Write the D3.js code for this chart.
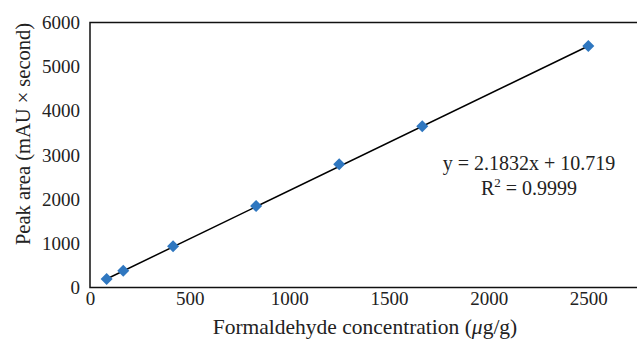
<!DOCTYPE html>
<html>
<head>
<meta charset="utf-8">
<script src="https://cdn.jsdelivr.net/npm/d3@7"></script>
<style>
  body { margin: 0; background: #fff; }
  svg text { font-family: "Liberation Serif", "DejaVu Serif", serif; fill: #222; }
</style>
</head>
<body>
<figure id="chart" style="margin:0"></figure>
<script>
// data
const concentrations = [83.3, 166.7, 416.7, 833.3, 1250, 1666.7, 2500];
const peakAreas = [193, 378, 935, 1845, 2790, 3650, 5470];
const xTicks = [0, 500, 1000, 1500, 2000, 2500];
const yTicks = [0, 1000, 2000, 3000, 4000, 5000, 6000];
const slope = 2.1832;
const intercept = 10.719;
const equationLines = ["y = 2.1832x + 10.719", "R2 = 0.9999"];

const width = 637, height = 344;
const margin = { top: 22.5, right: -51, bottom: 56.5, left: 90 };
const serif = "'Liberation Serif', 'DejaVu Serif', serif";

const svg = d3.select("figure#chart")
  .append("svg")
  .attr("width", width)
  .attr("height", height);

const x = d3.scaleLinear()
  .domain([0, 3000])
  .range([margin.left, width - margin.right]);

const y = d3.scaleLinear()
  .domain([0, 6000])
  .range([height - margin.bottom, margin.top]);

// plot frame
svg.append("rect")
  .attr("x", x(0))
  .attr("y", y(6000))
  .attr("width", x(3000) - x(0))
  .attr("height", y(0) - y(6000))
  .attr("fill", "none")
  .attr("stroke", "#111")
  .attr("stroke-width", 1.5);

// axes (labels only, no tick marks)
const xAxis = svg.append("g")
  .attr("transform", `translate(0,${y(0)})`)
  .call(d3.axisBottom(x).tickValues(xTicks).tickSize(0).tickPadding(4).tickFormat(d3.format("d")))
  .attr("font-family", serif)
  .attr("font-size", 19);
xAxis.select(".domain").remove();
xAxis.selectAll(".tick text").attr("fill", "#222");

const yAxis = svg.append("g")
  .attr("transform", `translate(${x(0)},0)`)
  .call(d3.axisLeft(y).tickValues(yTicks).tickSize(0).tickPadding(10).tickFormat(d3.format("d")))
  .attr("font-family", serif)
  .attr("font-size", 19);
yAxis.select(".domain").remove();
yAxis.selectAll(".tick text").attr("fill", "#222");

// axis titles
svg.append("text")
  .attr("x", 365)
  .attr("y", 334)
  .attr("text-anchor", "middle")
  .style("font-size", "21.5px")
  .html("Formaldehyde concentration (<tspan font-style='italic'>μ</tspan>g/g)");

svg.append("text")
  .attr("transform", `translate(30,${(y(0) + y(6000)) / 2 - 21}) rotate(-90)`)
  .attr("text-anchor", "middle")
  .style("font-size", "20.5px")
  .text("Peak area (mAU × second)");

// linear trendline
const xMin = d3.min(concentrations), xMax = d3.max(concentrations);
svg.append("line")
  .attr("x1", x(xMin))
  .attr("y1", y(slope * xMin + intercept))
  .attr("x2", x(xMax))
  .attr("y2", y(slope * xMax + intercept))
  .attr("stroke", "#000")
  .attr("stroke-width", 1.5);

// diamond markers
svg.append("g").selectAll("path")
  .data(concentrations.map((c, i) => [c, peakAreas[i]]))
  .enter()
  .append("path")
  .attr("d", d3.symbol(d3.symbolSquare, 72))
  .attr("transform", d => `translate(${x(d[0])},${y(d[1])}) rotate(45)`)
  .attr("fill", "#2F77C0");

// equation
svg.append("text")
  .attr("x", 529)
  .attr("y", 170)
  .attr("text-anchor", "middle")
  .style("font-size", "20px")
  .text(equationLines[0]);

const r2 = svg.append("text")
  .attr("x", 529)
  .attr("y", 195)
  .attr("text-anchor", "middle")
  .style("font-size", "20px");
r2.append("tspan").text("R");
r2.append("tspan").attr("dy", -8).style("font-size", "13px").text("2");
r2.append("tspan").attr("dy", 8).text(" = 0.9999");
</script>
</body>
</html>
